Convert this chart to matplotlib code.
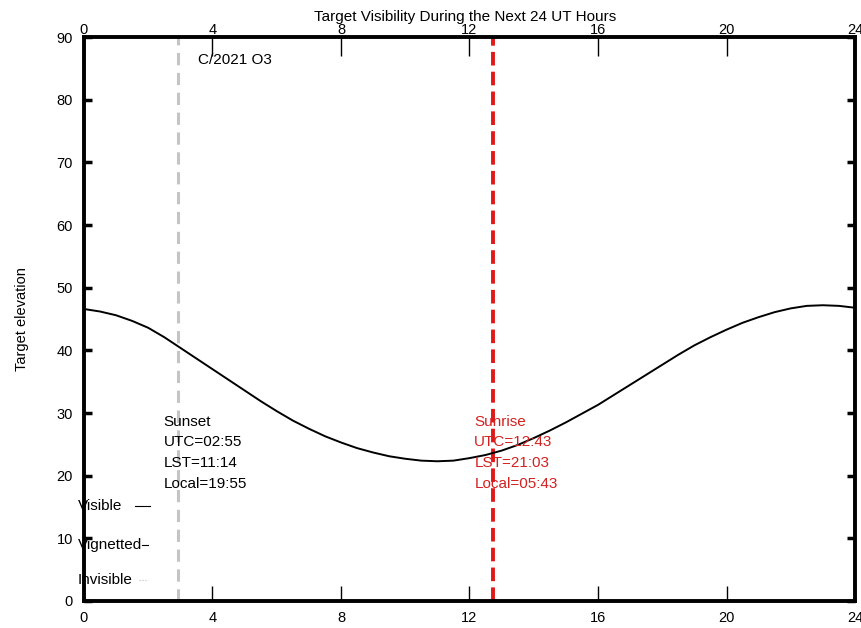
import matplotlib.pyplot as plt

plt.rcParams['font.family'] = ['Liberation Sans', 'DejaVu Sans']

# elevation of the target over the next 24 UT hours
hours = [0, 0.5, 1, 1.5, 2, 2.5, 3, 3.5, 4, 4.5, 5, 5.5, 6, 6.5, 7, 7.5, 8, 8.5,
         9, 9.5, 10, 10.5, 11, 11.5, 12, 12.5, 13, 13.5, 14, 14.5, 15, 15.5, 16,
         16.5, 17, 17.5, 18, 18.5, 19, 19.5, 20, 20.5, 21, 21.5, 22, 22.5, 23, 23.5, 24]
elevation = [46.6, 46.2, 45.6, 44.7, 43.6, 42.1, 40.4, 38.7, 37.0, 35.3, 33.6, 31.9,
             30.3, 28.8, 27.5, 26.3, 25.3, 24.4, 23.7, 23.1, 22.7, 22.4, 22.3, 22.4,
             22.8, 23.3, 24.0, 24.9, 26.0, 27.2, 28.5, 29.9, 31.3, 32.9, 34.5, 36.1,
             37.7, 39.3, 40.8, 42.1, 43.3, 44.4, 45.3, 46.1, 46.7, 47.1, 47.2, 47.1, 46.8]

target_name = 'C/2021 O3'
sunset_utc = 2 + 55 / 60
sunrise_utc = 12 + 43 / 60
sunset_lines = ['Sunset', 'UTC=02:55', 'LST=11:14', 'Local=19:55']
sunrise_lines = ['Sunrise', 'UTC=12:43', 'LST=21:03', 'Local=05:43']
xticks = [0, 4, 8, 12, 16, 20, 24]
yticks = [0, 10, 20, 30, 40, 50, 60, 70, 80, 90]

fig = plt.figure(figsize=(8.62, 6.28), dpi=100)
ax = fig.add_axes([0.0974, 0.043, 0.8945, 0.898])

ax.plot(hours, elevation, color='black', lw=1.4, zorder=3)

# sunset / sunrise markers
ax.plot([sunset_utc, sunset_utc], [0, 90], color='#c4c4c4', lw=2.2, dashes=(4, 2.5), zorder=2)
ax.plot([sunrise_utc, sunrise_utc], [0, 90], color='#e01818', lw=2.8, dashes=(3.5, 1.6), zorder=2)

line_y = [28.6, 25.3, 22.0, 18.7]
for txt, y in zip(sunset_lines, line_y):
    ax.text(2.48, y, txt, fontsize=11, color='black', va='center', ha='left')
for txt, y in zip(sunrise_lines, line_y):
    ax.text(12.15, y, txt, fontsize=11, color='#d42020', va='center', ha='left')

ax.text(3.55, 86.3, target_name, fontsize=11, va='center', ha='left')

# gnuplot-like key, partly hidden under the left border
ax.text(-0.2, 15.2, 'Visible', fontsize=11, va='center', ha='left', zorder=1)
ax.plot([1.6, 2.05], [15.2, 15.2], color='black', lw=0.8, zorder=1)
ax.text(-0.2, 9.0, 'Vignetted', fontsize=11, va='center', ha='left', zorder=1)
ax.plot([1.8, 2.0], [9.0, 9.0], color='black', lw=0.8, zorder=1)
ax.text(-0.2, 3.4, 'Invisible', fontsize=11, va='center', ha='left', zorder=1)
ax.plot([1.7, 2.0], [3.4, 3.4], color='#bbbbbb', lw=0.8, ls=':', zorder=1)

ax.set_xlim(0, 24)
ax.set_ylim(0, 90)
ax.set_xticks(xticks)
ax.set_yticks(yticks)
ax.tick_params(axis='x', direction='in', length=11, width=1, top=False,
               labelsize=10.5, pad=7)
ax.tick_params(axis='y', direction='in', length=6, width=2.5, right=True,
               labelsize=10.5, pad=8)

top = ax.secondary_xaxis('top')
top.set_xticks(xticks)
top.tick_params(direction='in', length=14, width=1, labelsize=10.5, pad=0)
top.spines['top'].set_visible(False)

for side in ['left', 'right', 'top', 'bottom']:
    ax.spines[side].set_linewidth(2.8)
    ax.spines[side].set_zorder(4)

ax.set_ylabel('Target elevation', fontsize=10.5, labelpad=20)
fig.text(0.54, 0.973, 'Target Visibility During the Next 24 UT Hours', fontsize=11,
         ha='center', va='center')

fig.savefig('out.png', dpi=100)
